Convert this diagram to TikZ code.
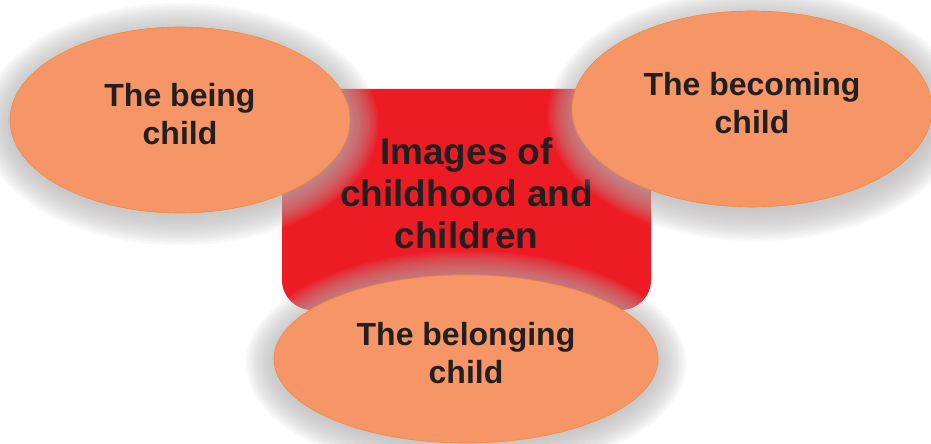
\documentclass[tikz,border=0pt]{standalone}
\usepackage{fontspec}
\setmainfont{Liberation Sans}
\usetikzlibrary{positioning}
\usetikzlibrary{shapes.geometric}
\usetikzlibrary{calc}
\definecolor{iRed}{HTML}{ED1C24}
\definecolor{iPeach}{HTML}{F69666}
\definecolor{iEdge}{HTML}{F08A3C}
\definecolor{iText}{HTML}{231F20}
\definecolor{iShade}{HTML}{B4B1B1}

% soft grey glow under an image: centre, x radius, y radius
\newcommand{\halo}[3]{%
  \foreach \k in {1,...,14} {
    \fill[halo] ($(#1)+(0,-4)$) ellipse ({#2pt+2.3pt*\k} and {#3pt+2.3pt*\k});
  }%
}

\begin{document}
\begin{tikzpicture}[
    x=1pt, y=1pt,
    core/.style = {fill=iRed, rounded corners=30pt, minimum width=369pt, minimum height=221pt,
      align=center, text=iText, text depth=13pt, font=\fontsize{37}{42}\selectfont\bfseries},
    bubble/.style = {ellipse, fill=iPeach, draw=iEdge, line width=0.6pt, align=center,
      text=iText, text depth=12pt, inner sep=0pt, font=\fontsize{32}{38}\selectfont\bfseries},
    halo/.style = {fill=iShade, fill opacity=0.085},
    ]

    \useasboundingbox (0,0) rectangle (931,444);

    % centre box
    \node[core] (images) at (466.5,244.5) {Images of\\childhood and\\children};

    % shadows
    \halo{180,324}{166}{89}
    \halo{756,333}{176}{94}
    \halo{466,85}{188}{80}

    % the three images
    \node[bubble, minimum width=340pt, minimum height=186pt] (being) at (180,324) {The being\\child};
    \node[bubble, minimum width=360pt, minimum height=196pt] (becoming) at (752,335) {The becoming\\child};
    \node[bubble, minimum width=384pt, minimum height=168pt] (belonging) at (466,85) {The belonging\\child};

  \end{tikzpicture}
\end{document}
